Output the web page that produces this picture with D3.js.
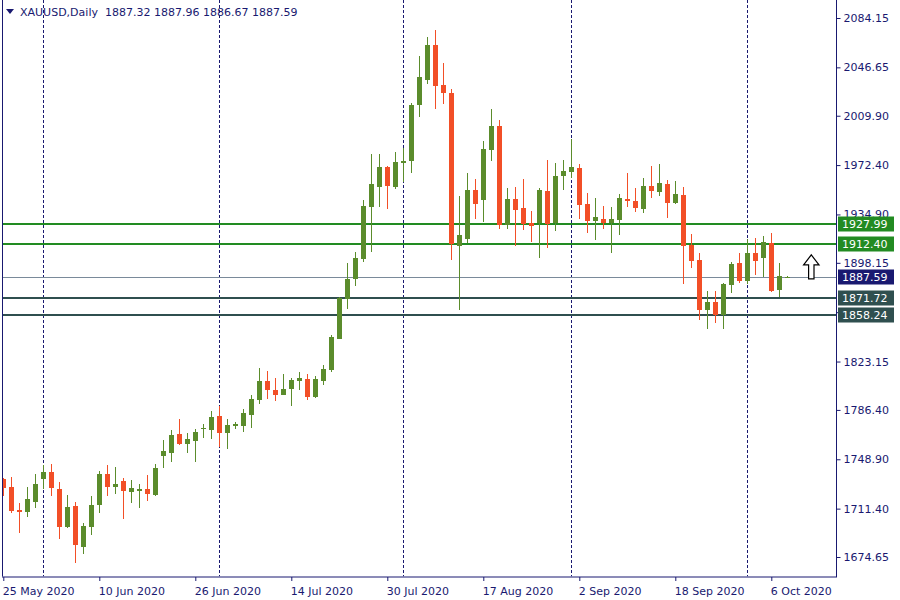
<!DOCTYPE html>
<html><head><meta charset="utf-8">
<script src="https://cdn.jsdelivr.net/npm/d3@7"></script>
<style>body{margin:0;background:#fff}svg{display:block}</style>
</head><body><svg id="c" width="900" height="600"></svg>
<script>
// ---- data (daily bars, index 0 = 25 May 2020) ----
const open  = [1734.2,1727.8,1710.0,1709.1,1716.7,1734.2,1739.2,1726.3,1697.2,1713.4,
               1682.5,1697.7,1713.9,1737.7,1728.1,1732.4,1724.3,1725.8,1726.0,1722.0,
               1751.4,1753.9,1768.1,1760.8,1763.0,1772.2,1771.4,1781.8,1769.1,1775.1,
               1774.4,1782.8,1794.2,1808.4,1801.5,1798.0,1802.5,1808.6,1809.9,1796.5,
               1808.6,1816.7,1840.5,1870.9,1886.1,1901.3,1940.8,1956.0,1971.0,1956.0,
               1974.3,1975.8,2018.3,2037.3,2063.6,2033.2,2027.2,1911.2,1916.5,1953.2,
               1946.2,1984.1,2001.9,1927.2,1946.4,1939.8,1928.2,1928.2,1952.7,1928.2,
               1964.4,1967.4,1970.2,1942.8,1930.2,1931.5,1928.4,1931.0,1946.6,1945.1,
               1939.0,1956.5,1952.0,1958.0,1943.6,1949.7,1911.7,1900.3,1862.6,1868.4,
               1858.8,1881.1,1898.0,1884.4,1905.6,1901.8,1913.0,1877.5,1887.32];
const high  = [1735.0,1735.4,1715.7,1727.8,1738.0,1744.6,1745.3,1731.6,1721.8,1716.5,
               1700.8,1721.0,1740.0,1744.6,1743.0,1734.7,1732.9,1730.1,1737.0,1745.3,
               1763.6,1771.2,1779.5,1768.9,1772.2,1775.7,1785.6,1789.4,1779.5,1777.0,
               1787.1,1797.7,1818.3,1816.0,1810.6,1813.7,1810.6,1815.2,1813.7,1812.2,
               1820.5,1843.3,1872.5,1898.0,1906.4,1945.9,1980.8,1980.8,1971.7,1982.3,
               1985.7,2019.6,2055.3,2069.7,2075.0,2049.9,2030.2,1949.2,1966.2,1961.6,
               1990.5,2015.0,2006.7,1954.8,1955.8,1961.8,1937.5,1954.8,1976.3,1974.0,
               1976.3,1992.2,1973.2,1951.2,1947.2,1941.3,1940.6,1950.4,1966.4,1955.0,
               1962.6,1971.7,1973.2,1961.1,1960.3,1955.8,1920.1,1905.6,1876.8,1876.5,
               1882.8,1898.5,1905.6,1916.5,1917.0,1918.5,1920.8,1898.0,1887.96];
const low   = [1721.3,1708.3,1693.1,1705.0,1712.1,1726.3,1721.3,1688.6,1696.7,1670.4,
               1677.2,1691.6,1707.8,1721.3,1722.3,1703.8,1716.0,1712.1,1717.5,1721.3,
               1742.5,1747.1,1760.0,1753.9,1747.1,1765.3,1764.6,1758.0,1757.0,1772.1,
               1769.9,1772.9,1791.2,1795.0,1793.4,1797.5,1789.6,1801.5,1794.2,1795.7,
               1805.6,1815.2,1840.0,1863.3,1880.8,1899.0,1906.6,1940.8,1939.3,1954.5,
               1959.8,1966.7,2009.2,2034.3,2015.3,2019.1,1900.6,1862.6,1913.5,1931.7,
               1929.2,1975.8,1924.1,1924.1,1911.2,1923.3,1914.2,1902.1,1909.7,1922.6,
               1953.5,1962.3,1931.7,1921.1,1915.8,1924.1,1905.9,1919.5,1940.8,1936.8,
               1936.3,1947.6,1948.9,1932.5,1942.8,1882.3,1894.5,1855.0,1848.2,1852.7,
               1848.2,1875.0,1882.8,1882.1,1889.2,1887.1,1876.2,1872.2,1886.67];
const close = [1727.3,1709.6,1709.3,1718.7,1730.1,1739.2,1727.3,1697.7,1712.7,1684.0,
               1698.2,1714.2,1737.7,1728.1,1730.1,1725.0,1726.8,1726.2,1722.3,1742.3,
               1755.2,1767.4,1760.8,1764.3,1769.6,1772.7,1781.0,1769.1,1774.9,1775.4,
               1784.1,1794.7,1808.4,1801.8,1798.0,1802.3,1809.1,1810.6,1796.5,1809.9,
               1817.5,1841.8,1871.7,1885.9,1901.8,1941.3,1958.0,1971.0,1956.8,1974.7,
               1975.3,2018.1,2039.3,2063.6,2032.7,2027.4,1912.2,1919.1,1953.2,1943.1,
               1984.4,2001.9,1927.2,1946.4,1938.6,1927.9,1926.4,1953.5,1927.9,1964.1,
               1967.9,1970.9,1942.3,1930.2,1933.0,1928.2,1931.4,1947.4,1945.4,1940.1,
               1956.5,1952.7,1958.8,1943.9,1950.4,1911.2,1899.8,1862.6,1868.4,1858.8,
               1882.1,1897.0,1884.4,1905.6,1899.5,1914.0,1876.8,1888.2,1887.59];

const xTickBars   = [0,12,24,36,48,60,72,84,96];
const xTickLabels = ["25 May 2020","10 Jun 2020","26 Jun 2020","14 Jul 2020","30 Jul 2020",
                     "17 Aug 2020","2 Sep 2020","18 Sep 2020","6 Oct 2020"];
const monthStartBars = [5,27,50,71,93];
const yTickLabels = ["2084.15","2046.65","2009.90","1972.40","1934.90","1898.15",
                     "1860.65","1823.15","1786.40","1748.90","1711.40","1674.65"];
const resistanceLevels = [1927.99, 1912.40];
const supportLevels    = [1871.72, 1858.24];
const lastPrice = 1887.59;
const headerSymbol = "XAUUSD,Daily";
const headerOHLC = ["1887.32","1887.96","1886.67","1887.59"];
const arrowBar = 101, arrowPrice = 1886.0;

// ---- layout ----
const L = 2, R = 836, T = 0, B = 576.5;
const C = {bull:"#5b8c2c", bear:"#f24f27", text:"#191970", frame:"#191970",
           green:"#228b22", dark:"#2f4f4f", last:"#191970", lastLine:"#7a8a9a"};
const FONT = "DejaVu Sans, Verdana, sans-serif";
const FS = "11px";

const svg = d3.select("#c");
const x = d3.scaleLinear().domain([0, 104]).range([3.3, 3.3 + 8*104]);
const y = d3.scaleLinear().domain([1674.65, 2084.15]).range([557, 18]);

svg.append("defs").append("clipPath").attr("id","plot")
  .append("rect").attr("x",L+0.5).attr("y",T).attr("width",R-L-0.5).attr("height",B-T);

const plot = svg.append("g").attr("clip-path","url(#plot)");

// month separators
plot.selectAll("line.grid").data(monthStartBars).join("line")
  .attr("class","grid")
  .attr("x1",d=>Math.round(x(d))+0.5).attr("x2",d=>Math.round(x(d))+0.5)
  .attr("y1",T).attr("y2",B)
  .attr("stroke",C.frame).attr("stroke-width",1).attr("stroke-dasharray","3,2");

// level lines
const levelData = resistanceLevels.map(v=>({v,c:C.green})).concat(supportLevels.map(v=>({v,c:C.dark})));
plot.selectAll("line.lvl").data(levelData).join("line")
  .attr("class","lvl")
  .attr("x1",L).attr("x2",R)
  .attr("y1",d=>Math.round(y(d.v))).attr("y2",d=>Math.round(y(d.v)))
  .attr("stroke",d=>d.c).attr("stroke-width",2);

// current price line
plot.append("line")
  .attr("x1",L).attr("x2",R)
  .attr("y1",Math.round(y(lastPrice))+0.5).attr("y2",Math.round(y(lastPrice))+0.5)
  .attr("stroke",C.lastLine).attr("stroke-width",1);

// candles
const bars = d3.range(open.length).map(i=>({i,o:open[i],h:high[i],l:low[i],c:close[i]}));
const g = plot.append("g").attr("shape-rendering","crispEdges");
g.selectAll("line.wick").data(bars).join("line")
  .attr("class","wick")
  .attr("x1",d=>Math.round(x(d.i))+0.5).attr("x2",d=>Math.round(x(d.i))+0.5)
  .attr("y1",d=>y(d.h)).attr("y2",d=>y(d.l))
  .attr("stroke",d=>d.c>=d.o?C.bull:C.bear).attr("stroke-width",1);
g.selectAll("rect.body").data(bars).join("rect")
  .attr("class","body")
  .attr("x",d=>Math.round(x(d.i))-2).attr("width",5)
  .attr("y",d=>y(Math.max(d.o,d.c)))
  .attr("height",d=>Math.max(1.5, Math.abs(y(d.o)-y(d.c))))
  .attr("fill",d=>d.c>=d.o?C.bull:C.bear);

// arrow (up)
const ax = x(arrowBar), ay = y(arrowPrice);
const arrowPts = [[0,-24],[7.7,-14],[2.7,-14],[2.7,0],[-2.7,0],[-2.7,-14],[-7.7,-14]];
svg.append("path")
  .attr("d", d3.line()(arrowPts.map(p=>[ax+p[0], ay+p[1]])) + "Z")
  .attr("fill","#fff").attr("stroke","#000").attr("stroke-width",1.2).attr("stroke-linejoin","miter");

// frame
svg.append("line").attr("x1",L+0.5).attr("x2",L+0.5).attr("y1",0).attr("y2",B).attr("stroke",C.frame);
svg.append("line").attr("x1",R+0.5).attr("x2",R+0.5).attr("y1",0).attr("y2",B+0.5).attr("stroke",C.frame);
svg.append("line").attr("x1",L).attr("x2",R+1).attr("y1",B+0.5).attr("y2",B+0.5).attr("stroke",C.frame);

// y axis
const yAxis = d3.axisRight(y)
  .tickValues(yTickLabels.map(Number))
  .tickFormat((d,i)=>yTickLabels[i])
  .tickSize(4).tickPadding(3);
const yg = svg.append("g").attr("transform",`translate(${R+0.5},0)`).call(yAxis);
yg.select(".domain").remove();
yg.selectAll(".tick line").attr("stroke",C.frame);
yg.selectAll(".tick text").attr("fill",C.text).style("font-family",FONT).style("font-size",FS);

// x axis
const xAxis = d3.axisBottom(x)
  .tickValues(xTickBars)
  .tickFormat((d,i)=>xTickLabels[i])
  .tickSize(4);
const xg = svg.append("g").attr("transform",`translate(0,${B+0.5})`).call(xAxis);
xg.select(".domain").remove();
xg.selectAll(".tick line").attr("stroke",C.frame);
xg.selectAll(".tick text").attr("fill",C.text).attr("text-anchor","start")
  .attr("x",-1).attr("y",10).attr("dy","0.71em")
  .style("font-family",FONT).style("font-size",FS);

// price tags
const tags = levelData.map(d=>({v:d.v,c:d.c})).concat([{v:lastPrice,c:C.last}]);
const tg = svg.selectAll("g.tag").data(tags).join("g").attr("class","tag")
  .attr("transform",d=>`translate(838,${Math.round(y(d.v))})`);
tg.append("rect").attr("x",0).attr("y",-7.5).attr("width",56).attr("height",15).attr("fill",d=>d.c);
tg.append("text").attr("x",4).attr("dy","0.36em").attr("fill","#fff")
  .style("font-family",FONT).style("font-size",FS).text(d=>d.v.toFixed(2));

// header
svg.append("path").attr("d","M6,9 L14,9 L10,14 Z").attr("fill",C.text);
svg.append("text").attr("x",20).attr("y",16).attr("fill",C.text)
  .style("font-family",FONT).style("font-size",FS)
  .attr("xml:space","preserve")
  .text(headerSymbol + "  " + headerOHLC.join(" "));
</script>
</body></html>
